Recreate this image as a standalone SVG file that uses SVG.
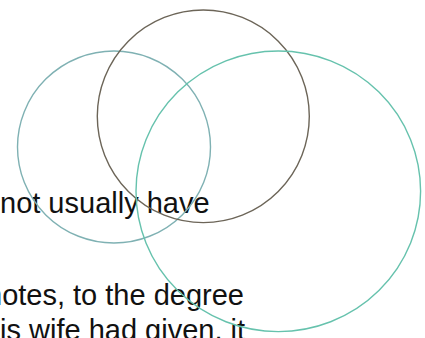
<svg xmlns="http://www.w3.org/2000/svg" width="425" height="338" viewBox="0 0 425 338">
<style>
.t{font-family:"Liberation Sans",Arial,sans-serif;font-size:29px;fill:#111}
.c{fill:none;stroke-width:1.4}
</style>
<rect width="425" height="338" fill="#fff"/>
<g id="text">
<text class="t" x="0" y="213">not usually have</text>
<text class="t" x="-14" y="305">notes, to the degree</text>
<text class="t" x="0" y="340">is wife had given, it</text>
</g>
<g id="circle-left"><ellipse class="c" cx="114" cy="147" rx="96.5" ry="96" stroke="#7fb1b3"/></g>
<g id="circle-top"><ellipse class="c" cx="203.3" cy="116.3" rx="106" ry="106.3" stroke="#6c6558"/></g>
<g id="circle-right"><ellipse class="c" cx="278.3" cy="191.3" rx="142.3" ry="140.3" stroke="#66c2ad"/></g>
</svg>
